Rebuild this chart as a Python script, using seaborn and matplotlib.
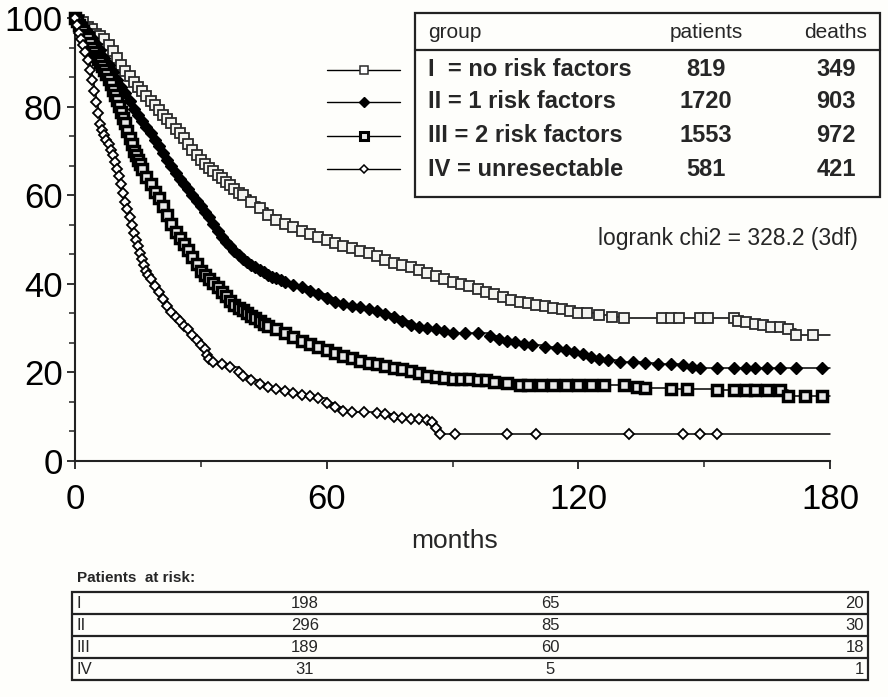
import matplotlib
matplotlib.use("Agg")
import matplotlib.pyplot as plt
from matplotlib.patches import Rectangle
import numpy as np
import pandas as pd
import seaborn as sns

# Kaplan-Meier survival (%), months vs. survival
months_I = [0, 1, 2, 3, 4, 5, 6, 7, 8, 9, 10, 11, 12, 13, 14, 15, 16, 17, 18, 19, 20,
            21, 22, 23, 24, 25, 26, 27, 28, 29, 30, 31, 32, 33, 34, 35, 36, 37, 38, 39,
            40, 42, 44, 46, 48, 50, 52, 54, 56, 58, 60, 62, 64, 66, 68, 70, 72, 74, 76,
            78, 80, 82, 84, 86, 88, 90, 92, 94, 96, 98, 100, 102, 104, 106, 108, 110,
            112, 114, 116, 118, 120, 122, 125, 128, 131, 140, 142, 144, 149, 151, 157,
            158, 160, 162, 164, 166, 168, 170, 172, 176]
surv_I = [100, 99.5, 99, 98, 97.5, 96.5, 96, 95.3, 94, 92.5, 91, 89.5, 88, 86.8, 85.5,
          84.5, 83.5, 82.5, 81.3, 80.3, 79.2, 78.2, 77.2, 76.2, 75, 74, 72.8, 71.5, 70.3,
          69, 68, 67, 66.2, 65.4, 64.6, 63.8, 63, 62.2, 61.4, 60.6, 60, 58.5, 57, 55.5,
          54.5, 53.6, 52.8, 52, 51.3, 50.6, 49.8, 49.2, 48.5, 48, 47.4, 46.9, 46.2, 45.4,
          44.7, 44.3, 43.9, 43.2, 42.4, 41.7, 41, 40.5, 40, 39.4, 38.8, 38.2, 37.6, 37,
          36.4, 36, 35.6, 35.2, 34.9, 34.6, 34.2, 33.9, 33.5, 33.3, 33, 32.6, 32.3, 32.3,
          32.3, 32.3, 32.3, 32.3, 32.3, 31.6, 31.4, 30.9, 30.7, 30.2, 30.2, 29.8, 28.4,
          28.4]

months_II = [0, 1, 2, 3, 4, 5, 6, 7, 8, 9, 10, 11, 12, 13, 14, 15, 16, 17, 18, 19, 20,
             21, 22, 23, 24, 25, 26, 27, 28, 29, 30, 31, 32, 33, 34, 35, 36, 37, 38, 39,
             40, 41, 42, 43, 44, 45, 46, 47, 48, 49, 50, 52, 54, 56, 58, 60, 62, 64, 66,
             68, 70, 72, 74, 76, 78, 80, 82, 84, 86, 88, 90, 93, 96, 99, 101, 103, 105,
             107, 109, 112, 115, 117, 119, 121, 123, 125, 127, 130, 133, 136, 139, 142,
             145, 147, 149, 153, 157, 160, 162, 165, 168, 172, 178]
surv_II = [100, 99, 98, 96.8, 95.5, 94.2, 92.8, 91, 89.5, 87.7, 86, 84.5, 83, 81.3, 79.5,
           78, 76.8, 75.3, 74, 72.5, 71, 69.5, 68, 66.5, 65, 63.7, 62.5, 61.3, 60, 58.8,
           57.5, 56.3, 55, 53.5, 52, 50.6, 49.5, 48.5, 47.5, 46.5, 45.6, 44.9, 44.3, 43.7,
           43.1, 42.6, 42, 41.6, 41.2, 40.8, 40.4, 39.8, 39.2, 38.4, 37.6, 36.8, 36, 35.4,
           35, 34.7, 34.3, 33.9, 33.2, 32.5, 31.6, 30.6, 30.3, 30.1, 29.9, 29.3, 29, 28.9,
           28.8, 28.2, 27.6, 27.2, 26.8, 26.4, 26.1, 25.8, 25.5, 25, 24.6, 24.2, 23.5,
           23.1, 22.7, 22.4, 22.3, 22.1, 22, 21.9, 21.7, 21.3, 21, 21, 21, 21, 21, 21, 21,
           21, 21]

months_III = [0, 0.5, 1, 1.5, 2, 2.5, 3, 3.5, 4, 4.5, 5, 5.5, 6, 6.5, 7, 7.5, 8, 8.5, 9,
              9.5, 10, 10.5, 11, 11.5, 12, 12.5, 13, 13.5, 14, 14.5, 15, 15.5, 16, 17, 18,
              19, 20, 21, 22, 23, 24, 25, 26, 27, 28, 29, 30, 31, 32, 33, 34, 35, 36, 37,
              38, 39, 40, 41, 42, 43, 44, 45, 46, 48, 50, 52, 54, 56, 58, 60, 62, 64, 66,
              68, 70, 72, 74, 76, 78, 80, 82, 84, 86, 88, 90, 92, 94, 96, 98, 100, 103,
              106, 108, 111, 114, 117, 120, 123, 126, 131, 134, 136, 142, 146, 153, 157,
              160, 162, 165, 168, 170, 174, 178]
surv_III = [100, 99.3, 98.5, 97.8, 97, 96.2, 95.4, 94.4, 93.3, 92.4, 91.5, 90.8, 90, 89.2,
            88.3, 87.3, 86.2, 85, 83.8, 82.6, 81.5, 80.2, 78.8, 77.5, 76.3, 74.6, 73, 71.5,
            70, 69, 68, 67, 66, 64.2, 62.5, 60.8, 59.3, 57.5, 55.5, 53.5, 51.8, 50.3, 48.9,
            47.6, 46, 44.5, 43, 42, 41, 40.1, 39.2, 38.2, 37.2, 36.2, 35.3, 34.6, 34, 33.4,
            32.8, 32.2, 31.6, 31, 30.5, 29.8, 29, 28, 27.2, 26.5, 25.8, 25, 24.3, 23.7,
            23.2, 22.6, 22.2, 21.8, 21.4, 21.1, 20.8, 20.4, 19.8, 19.3, 19, 18.8, 18.6,
            18.5, 18.4, 18.3, 18.2, 17.8, 17.5, 17.2, 17.2, 17.2, 17.2, 17.2, 17.2, 17.2,
            17.2, 17.2, 16.8, 16.5, 16.3, 16.2, 16, 16, 16, 16, 16, 16, 14.6, 14.6, 14.6]

months_IV = [0, 0.5, 1, 1.5, 2, 2.5, 3, 3.5, 4, 4.5, 5, 5.5, 6, 6.5, 7, 7.5, 8, 8.5, 9,
             9.5, 10, 10.5, 11, 11.5, 12, 12.5, 13, 13.5, 14, 14.5, 15, 15.5, 16, 16.5, 17,
             17.5, 18, 19, 20, 21, 22, 23, 24, 25, 26, 27, 28, 29, 30, 31, 31.5, 32, 33,
             35, 37, 39, 40, 42, 44, 46, 48, 50, 52, 54, 56, 58, 60, 62, 64, 66, 69, 72,
             74, 76, 78, 80, 82, 84, 85, 86, 87, 90.7, 103, 110, 132, 145, 149, 153]
surv_IV = [100, 98.5, 96.6, 95.3, 94, 92.3, 90.5, 88.3, 86, 83.5, 81, 78.5, 76, 74.7, 73.5,
           72.5, 71.5, 70.2, 69, 67.5, 66, 64.3, 62.5, 60.5, 58.5, 56.8, 55, 53.2, 51.5,
           50, 48.5, 47, 45.5, 44.2, 43, 42, 41, 39.5, 38.2, 36.5, 35, 33.6, 32.5, 31.5,
           30.5, 29.8, 28.5, 27.3, 26.2, 25.2, 24, 23, 22.4, 22, 21.2, 20.2, 19.3, 18.3,
           17.3, 16.6, 16.2, 15.8, 15.3, 15, 14.6, 14.2, 13.2, 12.2, 11.3, 11.1, 11, 10.8,
           10.6, 10, 9.7, 9.5, 9.4, 9.3, 8.8, 7.5, 6.2, 6.2, 6.2, 6.2, 6.2, 6.2, 6.2, 6.2]

follow_up_end = 180

groups = ["I", "II", "III", "IV"]
group_labels = ["I  = no risk factors", "II = 1 risk factors",
                "III = 2 risk factors", "IV = unresectable"]
patients = [819, 1720, 1553, 581]
deaths = [349, 903, 972, 421]
logrank_text = "logrank chi2 = 328.2 (3df)"

risk_times = [60, 120, 180]
at_risk = {
    "I": [198, 65, 20],
    "II": [296, 85, 30],
    "III": [189, 60, 18],
    "IV": [31, 5, 1],
}

curves = {
    "I": (months_I, surv_I),
    "II": (months_II, surv_II),
    "III": (months_III, surv_III),
    "IV": (months_IV, surv_IV),
}

# marker look per group (open square, filled diamond, heavy square, small open diamond)
marker_style = {
    "I": dict(marker="s", markersize=7.2, markerfacecolor="#f4f4f0",
              markeredgecolor="#2a2a2a", markeredgewidth=1.3),
    "II": dict(marker="D", markersize=6.4, markerfacecolor="black",
               markeredgecolor="black", markeredgewidth=1.0),
    "III": dict(marker="s", markersize=7.0, markerfacecolor="#e8e8e8",
                markeredgecolor="black", markeredgewidth=2.5),
    "IV": dict(marker="D", markersize=5.4, markerfacecolor="white",
               markeredgecolor="black", markeredgewidth=1.3),
}
legend_marker = {
    "I": dict(marker="s", markersize=6.0, markerfacecolor="white",
              markeredgecolor="#2a2a2a", markeredgewidth=1.1),
    "II": dict(marker="D", markersize=5.0, markerfacecolor="black",
               markeredgecolor="black", markeredgewidth=1.0),
    "III": dict(marker="s", markersize=6.0, markerfacecolor="#e8e8e8",
                markeredgecolor="black", markeredgewidth=2.2),
    "IV": dict(marker="D", markersize=4.4, markerfacecolor="white",
               markeredgecolor="black", markeredgewidth=1.1),
}

W, H = 888, 697
BG = "#fefefb"

sns.set_style("ticks")
plt.rcParams["font.family"] = ["Liberation Sans", "DejaVu Sans"]

fig = plt.figure(figsize=(W / 100, H / 100), dpi=100, facecolor=BG)


def fx(px):
    return px / W


def fy(py):
    return 1 - py / H


ax = fig.add_axes([fx(75), fy(461), fx(830) - fx(75), fy(18) - fy(461)])
ax.set_facecolor(BG)

for g in groups:
    t, s = curves[g]
    df = pd.DataFrame({"months": list(t) + [follow_up_end],
                       "survival": list(s) + [s[-1]]})
    sns.lineplot(data=df, x="months", y="survival", estimator=None, ax=ax,
                 color="black", linewidth=1.1, drawstyle="steps-post",
                 markevery=slice(0, len(t)), clip_on=False, zorder=3,
                 **marker_style[g])

ax.set_xlim(0, 180)
ax.set_ylim(0, 100)
ax.set_xticks([0, 60, 120, 180])
ax.set_xticks([30, 90, 150], minor=True)
ax.set_yticks([0, 20, 40, 60, 80, 100])
ax.set_yticks(np.arange(0, 101, 20 / 3), minor=True)
ax.set_xlabel("")
ax.set_ylabel("")
sns.despine(ax=ax)
for sp in ("left", "bottom"):
    ax.spines[sp].set_linewidth(1.5)
    ax.spines[sp].set_color("#222222")
ax.tick_params(axis="both", which="major", direction="out", length=6, width=1.3,
               labelsize=25, colors="#222222", labelcolor="black")
ax.tick_params(axis="both", which="minor", direction="out", length=4, width=1.1,
               colors="#222222")
ax.tick_params(axis="x", which="major", pad=10)
ax.tick_params(axis="y", which="major", pad=3)

fig.text(fx(455), fy(541), "months", fontsize=19, ha="center", va="center")

# overlay in pixel coordinates for the legend table and the at-risk table
ov = fig.add_axes([0, 0, 1, 1], facecolor="none")
ov.set_xlim(0, W)
ov.set_ylim(H, 0)
ov.axis("off")

# legend table
ov.add_patch(Rectangle((415, 13), 465, 184, fill=False, lw=1.6, ec="#222222"))
ov.plot([415, 880], [50, 50], color="#222222", lw=1.6)
ov.text(428, 33, "group", fontsize=15, va="center", ha="left")
ov.text(706, 33, "patients", fontsize=15, va="center", ha="center")
ov.text(836, 33, "deaths", fontsize=15, va="center", ha="center")
row_y = [70, 102, 136, 169]
for g, lab, n_pat, n_dth, y in zip(groups, group_labels, patients, deaths, row_y):
    ov.text(428, y, lab, fontsize=17, fontweight="bold", va="center", ha="left")
    ov.text(706, y, f"{n_pat}", fontsize=17, fontweight="bold", va="center", ha="center")
    ov.text(836, y, f"{n_dth}", fontsize=17, fontweight="bold", va="center", ha="center")
    ov.plot([327, 400], [y, y], color="black", lw=1.0)
    ov.plot([364], [y], color="black", **legend_marker[g])

ov.text(858, 238, logrank_text, fontsize=16.5, va="center", ha="right")

# patients at risk table
ov.text(77, 578, "Patients  at risk:", fontsize=11, fontweight="bold",
        va="center", ha="left")
tbl_left, tbl_right, tbl_top, row_h = 72, 868, 592, 22
ov.add_patch(Rectangle((tbl_left, tbl_top), tbl_right - tbl_left, row_h * 4,
                       fill=False, lw=1.6, ec="#222222"))
col_x = [305, 550, tbl_right - 4]
col_ha = ["center", "center", "right"]
for i, g in enumerate(groups):
    yc = tbl_top + row_h * (i + 0.5)
    if i > 0:
        ov.plot([tbl_left, tbl_right], [tbl_top + row_h * i] * 2, color="#222222", lw=1.6)
    ov.text(tbl_left + 4, yc, g, fontsize=12, va="center", ha="left")
    for x, ha, v in zip(col_x, col_ha, at_risk[g]):
        ov.text(x, yc, f"{v}", fontsize=12, va="center", ha=ha)

fig.savefig("out.png", dpi=100, facecolor=BG)
